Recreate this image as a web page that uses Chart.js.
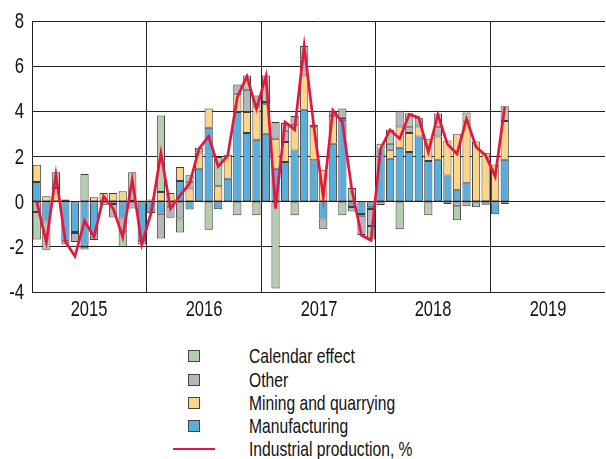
<!DOCTYPE html>
<html>
<head>
<meta charset="utf-8">
<script src="https://cdn.jsdelivr.net/npm/chart.js@4.4.1/dist/chart.umd.min.js"></script>
<style>
  html, body { margin: 0; padding: 0; background: #fff; }
  #wrap { position: relative; width: 606px; height: 459px; overflow: hidden;
          font-family: "Liberation Sans", Arial, sans-serif; color: #111; }
  #chart { position: absolute; left: 0; top: 0; }
  .row { position: absolute; left: 0; width: 606px; height: 24px; }
  .box { position: absolute; left: 188px; top: 6px; width: 10px; height: 10px; border: 1px solid #444; }
  .ln { position: absolute; left: 173px; top: 10.5px; width: 42px; height: 2.5px; background: #e5173f; }
  .txt { position: absolute; left: 249px; top: 0; line-height: 24px; font-size: 21px; white-space: nowrap;
         transform: scaleX(0.745); transform-origin: left center; }
  .ylab { position: absolute; left: 0; width: 24px; text-align: right; font-size: 22px; line-height: 22px;
          transform: scaleX(0.76); transform-origin: right center; }
  .xlab { position: absolute; width: 80px; text-align: center; font-size: 22px; line-height: 22px;
          transform: scaleX(0.75); transform-origin: center center; }
</style>
</head>
<body>
<div id="wrap">
  <canvas id="chart" width="606" height="325"></canvas>
  <div id="axisLabels"></div>
  <div id="legend"></div>
</div>
<script>
// monthly, Jan 2015 .. Feb 2019
const years = ["2015", "2016", "2017", "2018", "2019"];

const manufacturing = [
  0.87, -0.83, 0, -1.75, -1.34, -1.9, -1.5, 0, -0.1, -0.7, 0, -1.75,
  -0.5, -0.53, -0.25, 0.91, -0.35, 1.46, 3.27, -0.34, 1.02, 3.97, 3.04, 2.74,
  3.01, 1.46, 1.76, 2.27, 4.07, 1.83, -0.75, 2.57, 3.63, -0.24, -0.55, -0.25,
  2.31, 1.9, 2.39, 2.2, 2.89, 1.8, 1.86, 1.16, 0.53, 0.82, 0, 0,
  -0.56, 1.86
];
const mining = [
  0.77, 0.24, 0.6, 0.1, -0.05, -0.1, 0.2, 0.38, 0.38, 0.46, 0.1, 0.05,
  0.05, 0.43, 0.38, 0.62, 0.58, 0.72, 0.85, 0.68, 1.06, 0.81, 0.93, 1.47,
  1.3, 1.33, 0.88, 1.11, 1.52, 1.47, 1.39, 1.21, 0.09, 0, -0.07, -0.07,
  0.25, 0.4, 0.94, 0.84, 0.44, 0.99, 1.03, 1.55, 2.45, 2.73, 2.66, 2.17,
  1.65, 1.71
];
const other = [
  -0.46, -0.05, 0, -0.15, -0.4, -0.12, -0.2, -0.16, -0.6, -0.65, -0.3, -0.15,
  0.05, -1.1, -0.46, -0.75, 0.3, 0.21, 0, 0, 0, 0.41, 0.99, 0.49,
  0.1, 0.74, 0.5, 0.41, 0.71, 0.1, -0.47, 0.22, 0.4, -0.19, -0.86, -0.76,
  -0.15, 0.26, 0.68, 0.26, 0.39, 0, 0.41, -0.1, -0.2, -0.2, -0.25, -0.14,
  0, -0.1
];
const calendar = [
  -1.21, -1.25, 0.7, 0, 0, 1.22, 0, 0, 0, -0.65, 1.2, 0,
  0, 3.39, 0, -0.62, 0.29, 0, -1.24, 1.3, 0, -0.6, 0.63, -0.6,
  1.18, -3.85, 0.34, -0.6, 0.59, 0, 0, 0, -0.6, 0.6, 0, -0.6,
  0, 0.62, -1.22, 0.62, 0, -0.6, 0.6, 0, -0.62, 0.4, 0, 0,
  0, 0.65
];
const industrial = [
  0.0, -1.8, 1.2, -1.78, -2.42, -0.85, -1.56, 0.24, -0.31, -1.56, 0.97, -1.89,
  -0.45, 2.15, -0.31, 0.28, 0.8, 2.35, 2.89, 1.56, 2.05, 4.63, 5.55, 4.11,
  5.56, -0.31, 3.52, 3.19, 6.89, 3.38, 0.2, 4.04, 3.52, 0.5, -1.49, -1.71,
  2.34, 3.18, 2.79, 3.86, 3.72, 2.2, 3.86, 2.55, 2.12, 3.67, 2.42, 2.05,
  1.12, 4.19
];

const pts = arr => arr.map((v, i) => ({ x: i + 0.5, y: v === 0 ? null : v }));

const barStyle = { borderColor: "#3c3c3c", borderWidth: 1, borderSkipped: false,
                   barPercentage: 0.86, categoryPercentage: 1, order: 1 };

const series = [
  { label: "Calendar effect", data: calendar, color: "#b4cdaf" },
  { label: "Other", data: other, color: "#b5b6ba" },
  { label: "Mining and quarrying", data: mining, color: "#fdd589" },
  { label: "Manufacturing", data: manufacturing, color: "#5aaedb" },
];

// stacking goes manufacturing -> mining -> other -> calendar
const bars = series.slice().reverse().map(s => Object.assign({
  type: "bar", label: s.label, data: pts(s.data), backgroundColor: s.color
}, barStyle));

const lineDs = {
  type: "line", label: "Industrial production, %",
  data: industrial.map((v, i) => ({ x: i + 0.5, y: v })),
  borderColor: "#e5173f", borderWidth: 2.7, pointRadius: 0, tension: 0, order: 0
};

// axis labels as html text, placed from the chart scales (condensed look)
const htmlLabels = {
  id: "htmlLabels",
  afterRender(chart) {
    const box = document.getElementById("axisLabels");
    box.innerHTML = "";
    const ys = chart.scales.y, xs = chart.scales.x;
    ys.ticks.forEach(t => {
      const d = document.createElement("div");
      d.className = "ylab";
      d.textContent = String(t.value);
      d.style.top = (ys.getPixelForValue(t.value) - 11) + "px";
      box.appendChild(d);
    });
    years.forEach((yr, i) => {
      const d = document.createElement("div");
      d.className = "xlab";
      d.textContent = yr;
      d.style.left = (xs.getPixelForValue(i * 12 + 6) - 40) + "px";
      d.style.top = (xs.top + 5.5) + "px";
      box.appendChild(d);
    });
  }
};

new Chart(document.getElementById("chart").getContext("2d"), {
  type: "bar",
  data: { datasets: bars.concat([lineDs]) },
  plugins: [htmlLabels],
  options: {
    responsive: false,
    animation: false,
    layout: { padding: { top: 21, right: 1, left: 0, bottom: 0 } },
    plugins: { legend: { display: false }, tooltip: { enabled: false } },
    scales: {
      x: {
        type: "linear", min: 0, max: 60, offset: false, stacked: true,
        grid: {
          offset: false, drawTicks: false, lineWidth: 1,
          color: ctx => (ctx.tick && ctx.tick.value % 12 === 0 && ctx.tick.value < 60) ? "#222" : "rgba(0,0,0,0)"
        },
        border: { display: false },
        ticks: { stepSize: 6, autoSkip: false, display: false },
        afterFit: s => { s.height = 33; }
      },
      y: {
        stacked: true, min: -4, max: 8,
        grid: { color: "#222", lineWidth: 1, drawTicks: false },
        border: { display: false },
        ticks: { stepSize: 2, display: false },
        afterFit: s => { s.width = 32; }
      }
    }
  }
});

// legend under the chart
const legend = document.getElementById("legend");
const rowsY = [356, 380, 403, 426, 449];
series.concat([{ label: lineDs.label, line: true }]).forEach((s, i) => {
  const row = document.createElement("div");
  row.className = "row";
  row.style.top = (rowsY[i] - 12) + "px";
  const mark = document.createElement("div");
  if (s.line) { mark.className = "ln"; }
  else { mark.className = "box"; mark.style.background = s.color; }
  const txt = document.createElement("div");
  txt.className = "txt";
  txt.textContent = s.label;
  row.appendChild(mark);
  row.appendChild(txt);
  legend.appendChild(row);
});
</script>
</body>
</html>
